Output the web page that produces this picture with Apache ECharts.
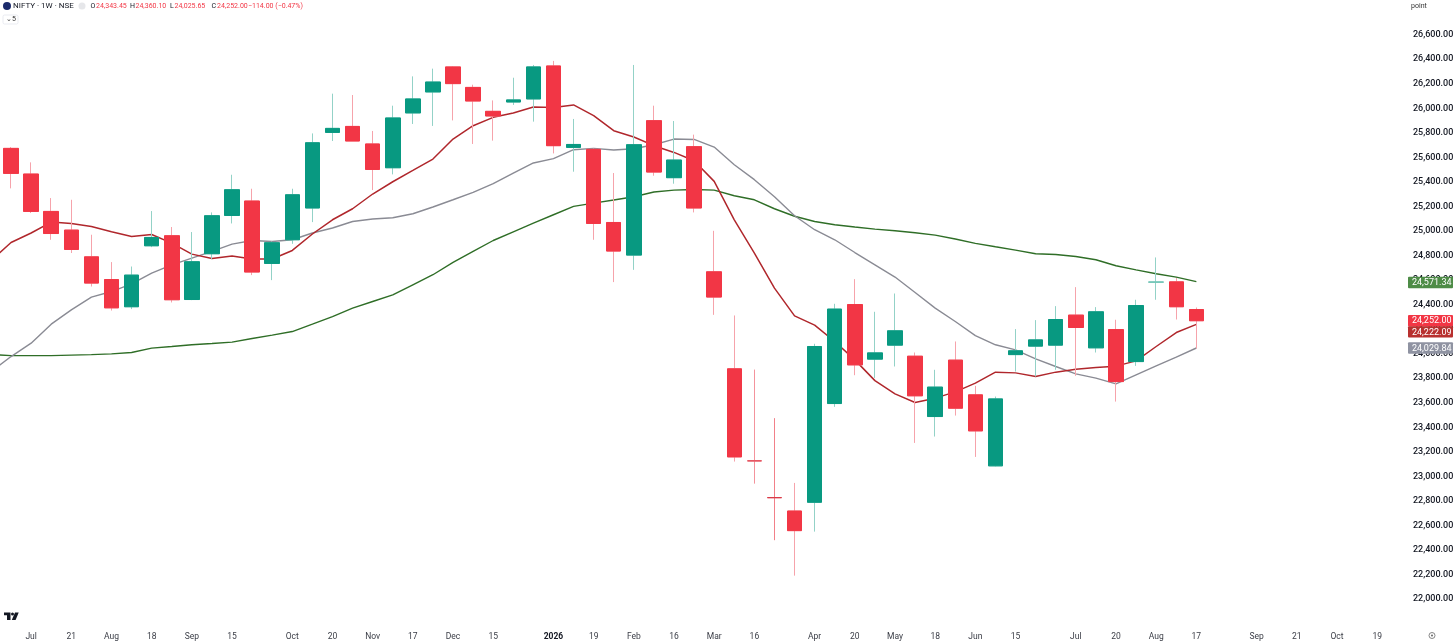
<!DOCTYPE html>
<html><head><meta charset="utf-8">
<style>html,body{margin:0;padding:0;background:#fff}#c{width:1456px;height:642px}</style>
<script src="https://cdn.jsdelivr.net/npm/echarts@6/dist/echarts.min.js"></script>
</head><body><div id="c"></div>
<script>
// One leading week sits just off the left edge so the averages run into the frame.
const weekLabels = ['', '', 'Jul', '', '21', '', 'Aug', '', '18', '', 'Sep', '', '15', '', '', 'Oct', '', '20', '', 'Nov', '', '17', '', 'Dec', '', '15', '', '', '2026', '', '19', '', 'Feb', '', '16', '', 'Mar', '', '16', '', '', 'Apr', '', '20', '', 'May', '', '18', '', 'Jun', '', '15', '', '', 'Jul', '', '20', '', 'Aug', '', '17', '', '', 'Sep', '', '21', '', 'Oct', '', '19', ''];
const opens = [null, 25657, 25448, 25143, 24991, 24773, 24588, 24366, 24863, 24945, 24425, 24798, 25110, 25228, 24719, 24912, 25171, 25787, 25836, 25693, 25499, 25946, 26117, 26321, 26154, 25959, 26035, 26060, 26329, 25665, 25649, 25053, 24787, 25883, 25418, 25671, 24651, 23860, 23110, 22810, 22701, 22772, 23577, 24384, 23939, 24053, 23963, 23471, 23931, 23648, 23069, 23976, 24045, 24053, 24298, 24031, 24180, 23919, 24567, 24569, 24343.45];
const closes = [null, 25453, 25143, 24963, 24833, 24559, 24357, 24624, 24931, 24423, 24733, 25108, 25320, 24649, 24888, 25279, 25703, 25820, 25717, 25485, 25905, 26060, 26198, 26185, 26043, 25921, 26052, 26321, 25679, 25689, 25045, 24820, 25687, 25464, 25562, 25171, 24445, 23142, 23110, 22810, 22541, 24042, 24347, 23892, 23990, 24170, 23640, 23711, 23539, 23354, 23615, 24007, 24096, 24262, 24197, 24325, 23756, 24376, 24567, 24366, 24252];
const lows = [null, 25331, 25130, 24912, 24804, 24531, 24335, 24347, 24852, 24401, 24420, 24755, 25045, 24624, 24583, 24879, 25056, 25717, 25717, 25317, 25445, 25856, 25840, 25885, 25693, 25720, 26011, 25875, 25616, 25467, 24912, 24567, 24667, 25434, 25369, 25135, 24300, 23104, 22924, 22463, 22174, 22533, 23550, 23808, 23786, 23879, 23256, 23308, 23479, 23142, 23065, 23838, 23797, 23852, 23803, 23993, 23593, 23884, 24423, 24262, 24025.65];
const highs = [null, 25668, 25543, 25252, 25238, 24953, 24730, 24694, 25146, 25016, 24975, 25135, 25442, 25328, 24898, 25328, 25779, 26103, 26092, 25799, 26005, 26244, 26307, 26325, 26176, 26048, 26233, 26337, 26370, 25897, 25655, 25456, 26337, 26005, 25880, 25769, 24985, 24295, 23854, 23458, 22930, 24064, 24390, 24591, 24325, 24474, 23993, 23852, 24083, 23721, 23634, 24184, 24257, 24371, 24526, 24363, 24260, 24423, 24768, 24600, 24360.10];
const maFast = [24741, 24890, 24967, 25056, 25045, 25021, 24977, 24939, 24955, 24885, 24795, 24760, 24779, 24755, 24755, 24825, 24959, 25075, 25165, 25285, 25385, 25477, 25570, 25733, 25842, 25910, 25946, 25995, 25991, 26011, 25924, 25801, 25750, 25679, 25624, 25556, 25388, 25075, 24804, 24518, 24292, 24216, 24083, 23933, 23764, 23656, 23585, 23621, 23672, 23743, 23833, 23827, 23797, 23833, 23857, 23870, 23882, 23925, 24042, 24156, 24222.09];
const maMid = [23835, 23960, 24069, 24224, 24341, 24445, 24490, 24553, 24640, 24708, 24763, 24817, 24877, 24906, 24898, 24912, 24967, 25008, 25061, 25081, 25092, 25124, 25179, 25238, 25298, 25369, 25456, 25538, 25573, 25646, 25657, 25644, 25654, 25687, 25733, 25730, 25668, 25524, 25402, 25263, 25108, 24994, 24912, 24808, 24708, 24608, 24482, 24355, 24246, 24131, 24056, 24015, 23941, 23879, 23819, 23784, 23737, 23811, 23884, 23955, 24029.84];
const maSlow = [23976, 23968, 23968, 23968, 23972, 23976, 23982, 23993, 24029, 24042, 24056, 24066, 24078, 24107, 24135, 24164, 24224, 24286, 24355, 24409, 24463, 24545, 24627, 24727, 24817, 24906, 24977, 25048, 25116, 25184, 25211, 25236, 25263, 25301, 25317, 25322, 25317, 25271, 25238, 25165, 25104, 25061, 25034, 25016, 24999, 24985, 24969, 24950, 24918, 24883, 24855, 24828, 24798, 24792, 24776, 24749, 24700, 24667, 24635, 24608, 24571.34];
const tagValues = [24571.34, 24252.00, 24222.09, 24029.84];

const RED = '#F23645', GREEN = '#089981';
const fmt = v => v.toLocaleString('en-US', {minimumFractionDigits: 2, maximumFractionDigits: 2});
const lastIndex = opens.length - 1;
const wicks = opens.map((o, i) => o === null ? '-' : [o, closes[i], lows[i], highs[i]]);
const bodies = opens.map((o, i) => o === null ? '-' : [o, closes[i], Math.min(o, closes[i]), Math.max(o, closes[i])]);
const dojiBody = {24567: '#6FC4B5', 23110: '#E4505C', 22810: '#D93A46'};
const dojiWick = {24567: '#93D2C7', 23110: '#F4939C', 22810: '#F28089'};
const tagStyle = [
  {fill: '#4E8C47', dy: 1},
  {fill: '#F23645', dy: 0},
  {fill: '#B8302F', dy: 7.5},
  {fill: '#8F93A2', dy: 0}
];
const FONT = 'Roboto, "Liberation Sans", sans-serif';
const lineSeries = (data, color, width) => ({
  type: 'line', data, showSymbol: false, symbol: 'none', z: 2,
  lineStyle: {color, width}, silent: true
});
const headText = (x, y, text, fill, extra) => ({
  type: 'text', x, y, silent: true,
  style: Object.assign({text, fill, font: '7px ' + FONT, textVerticalAlign: 'middle'}, extra || {})
});
const chart = echarts.init(document.getElementById('c'), null, {renderer: 'canvas'});
chart.setOption({
  animation: false,
  backgroundColor: '#fff',
  grid: {left: -19.09, width: 1426.4, top: 32.7, height: 564.3, outerBoundsMode: 'none'},
  xAxis: {
    type: 'category', data: weekLabels,
    axisLine: {show: false}, axisTick: {show: false}, splitLine: {show: false},
    axisLabel: {
      interval: 0, margin: 35, color: '#3a3d46', fontSize: 8.5, fontFamily: FONT, hideOverlap: false,
      formatter: v => v === '2026' ? '{y|2026}' : v,
      rich: {y: {fontWeight: 700, fontSize: 8.5, color: '#131722', fontFamily: FONT}}
    }
  },
  yAxis: {
    type: 'value', min: 22000, max: 26600, interval: 200, position: 'right',
    axisLine: {show: false}, axisTick: {show: false}, splitLine: {show: false},
    axisLabel: {
      align: 'right', margin: 46,
      formatter: v => '{p|' + fmt(v) + '}', showMinLabel: true, showMaxLabel: true,
      rich: {p: {color: '#131722', fontSize: 9, fontWeight: 500, fontFamily: FONT, padding: [4, 0, 0, 0]}}
    }
  },
  series: [
    lineSeries(maSlow, '#2F6E27', 1.4),
    lineSeries(maMid, '#8A8B94', 1.4),
    lineSeries(maFast, '#B0272C', 1.5),
    {
      type: 'candlestick', barWidth: 15, z: 3, silent: true,
      data: wicks.map(d => {
        if (d === '-') return d;
        const c = d[0] === d[1] ? dojiWick[d[0]] : (d[1] > d[0] ? '#93D2C7' : '#F6A3AB');
        return {value: d, itemStyle: {color: c, color0: c, borderColor: c, borderColor0: c, borderColorDoji: c, borderWidth: 1}};
      })
    },
    {
      type: 'candlestick', barWidth: 15, z: 4, silent: true,
      data: bodies.map(d => {
        if (d === '-') return d;
        const c = d[0] === d[1] ? dojiBody[d[0]] : (d[1] > d[0] ? GREEN : RED);
        return {value: d, itemStyle: {color: c, color0: c, borderColor: c, borderColor0: c, borderColorDoji: c, borderWidth: 1}};
      })
    },
    {
      type: 'custom', z: 10, silent: true, clip: false,
      encode: {x: 0, y: 1},
      data: tagValues.map(v => [lastIndex, v]),
      renderItem: (params, api) => {
        const s = tagStyle[params.dataIndex];
        const yc = api.coord([lastIndex, api.value(1)])[1] + s.dy;
        return {
          type: 'group',
          children: [
            {type: 'rect', shape: {x: 1408, y: yc - 5.7, width: 45, height: 11.4, r: 1}, style: {fill: s.fill}},
            {type: 'text', x: 1451.5, y: yc + 0.5, style: {text: fmt(api.value(1)), fill: '#fff', font: '9px ' + FONT, textAlign: 'right', textVerticalAlign: 'middle'}}
          ]
        };
      }
    }
  ],
  graphic: [
    {type: 'circle', shape: {cx: 7, cy: 6, r: 4}, style: {fill: '#1B2A6B'}, silent: true},
    headText(13, 6, 'NIFTY · 1W · NSE', '#131722', {font: '8px ' + FONT}),
    {type: 'circle', shape: {cx: 82, cy: 6, r: 3.5}, style: {fill: '#E6E7EA'}, silent: true},
    headText(90.5, 6, 'O', '#131722'),
    headText(96, 6, '24,343.45', RED),
    headText(130, 6, 'H', '#131722'),
    headText(135.5, 6, '24,360.10', RED),
    headText(170, 6, 'L', '#131722'),
    headText(174.5, 6, '24,025.65', RED),
    headText(211.5, 6, 'C', '#131722'),
    headText(217, 6, '24,252.00', RED),
    headText(248, 6, '−114.00 (−0.47%)', RED),
    {type: 'rect', shape: {x: 3, y: 15, width: 15, height: 9, r: 1.5}, style: {fill: '#fff', stroke: '#E0E3EB', lineWidth: 0.7}, silent: true},
    headText(6, 19.5, '⌄', '#333'),
    headText(12, 19.5, '5', '#333'),
    headText(1411, 6, 'point', '#333'),
    // TradingView mark
    {type: 'polygon', shape: {points: [[4, 612.5], [10.5, 612.5], [10.5, 620], [7, 620], [7, 615.3], [4, 615.3]]}, style: {fill: '#131722'}, silent: true},
    {type: 'circle', shape: {cx: 12.5, cy: 614, r: 1.5}, style: {fill: '#131722'}, silent: true},
    {type: 'polygon', shape: {points: [[15, 612.5], [18.7, 612.5], [15.6, 620], [11.8, 620]]}, style: {fill: '#131722'}, silent: true},
    // time-axis settings control
    {type: 'circle', shape: {cx: 1432, cy: 635.5, r: 3}, style: {fill: 'none', stroke: '#555', lineWidth: 0.7}, silent: true},
    {type: 'circle', shape: {cx: 1432, cy: 635.5, r: 0.9}, style: {fill: '#555'}, silent: true}
  ]
});
</script></body></html>
